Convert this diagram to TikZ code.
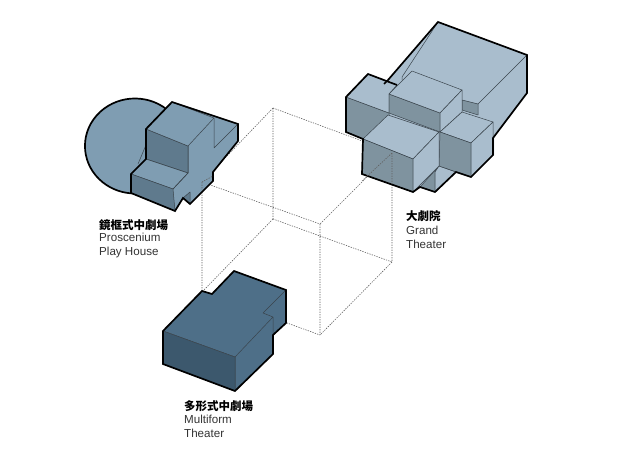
\documentclass[tikz,border=0pt]{standalone}
\usepackage{fontspec}
\setmainfont{Liberation Sans}
\newfontfamily\cjk{Noto Sans CJK TC}
\definecolor{phtop}{HTML}{7F9DB2}
\definecolor{phdark}{HTML}{5F7A8D}
\definecolor{gtop}{HTML}{A9BDCD}
\definecolor{gdark}{HTML}{7F939F}
\definecolor{mtop}{HTML}{4E6F88}
\definecolor{mdark}{HTML}{3C586D}
\definecolor{inkline}{HTML}{3A444C}
\tikzset{
  cubeline/.style={draw=black!62,line width=0.6pt,dash pattern=on 1.3pt off 1.2pt},
  facet/.style={draw=inkline,line width=0.5pt,line join=round},
  rim/.style={draw=black,line width=1.7pt,line join=miter},
  cjklabel/.style={anchor=base west,inner sep=0pt,font={\cjk\bfseries\fontsize{11.5}{13}\selectfont},text=black},
  enlabel/.style={anchor=base west,inner sep=0pt,font={\fontsize{11.6}{14}\selectfont},text=black!80}
}
\begin{document}
\begin{tikzpicture}[x=1pt,y=-1pt]
\useasboundingbox (0,0) rectangle (618,463);
% cube
\coordinate (tb) at (273,108); \coordinate (tl) at (202,182);
\coordinate (tr) at (392,152); \coordinate (tf) at (320,224);
\coordinate (bb) at (273,219); \coordinate (bl) at (202,292);
\coordinate (br) at (392,262); \coordinate (bf) at (320,335);
\draw[cubeline] (tb)--(tl) (tb)--(tr) (tl)--(tf) (tr)--(tf)
  (bb)--(bl) (bb)--(br) (bl)--(bf) (br)--(bf)
  (tb)--(bb) (tl)--(bl) (tr)--(br) (tf)--(bf);
% Play house
\fill[phtop] (135,146) ellipse[x radius=50,y radius=47.5];
\draw[rim] (167.1,109.6) arc[start angle=-50,end angle=-270,x radius=50,y radius=47.5];
\path[fill=phtop] (172,102)--(195,109)--(238,124)--(238,141)--(213,172)--(213,181)--(190,204)--(183,198)--(175,211)--(131,193)--(131,174)--(146,159)--(146,129)--cycle;
\path[facet,fill=phdark] (146,129)--(188,146)--(188,173)--(146,159)--cycle;
\path[facet,fill=phtop] (131,174)--(146,159)--(188,173)--(173,189)--cycle;
\path[facet,fill=phdark] (131,174)--(173,189)--(175,211)--(131,193)--cycle;
\path[facet,fill=phtop] (146,129)--(172,102)--(214,118)--(188,146)--cycle;
\path[facet,fill=phdark] (183,198)--(190,192)--(190,204)--cycle;
\draw[facet] (214,118)--(214,148)--(238,124) (146,145)--(138,164) (188,173)--(188,146) (173,189)--(188,173);
\draw[rim] (172,102)--(238,124)--(238,141)--(213,172)--(213,181)--(190,204)--(183,198)--(175,211)--(131,193)--(131,174)--(146,159)--(146,129)--(172,102)--cycle;
\draw[cubeline] (202,182)--(213,176) (202,182)--(202,190);
% Grand theater
\path[fill=gtop] (438,22)--(527,55)--(527,93)--(494,137)--(494,155)--(456,172)--(435,192)--(420,187)--(413,192)--(362,174)--(363,139)--(346,132)--(346,97)--(368,74)--(397,85)--(388,80)--cycle;
\path[facet,fill=gdark] (462,100)--(478,104)--(478,115)--(462,110)--cycle;
\draw[facet] (527,55)--(478,104) (438,22)--(402,77)--(402,80);
\path[facet,fill=gdark] (346,97)--(389,113)--(389,122)--(363,139)--(346,132)--cycle;
\path[facet,fill=gtop] (346,97)--(368,74)--(397,85)--(389,94)--(389,113)--cycle;
\path[facet,fill=gdark] (389,94)--(440,113)--(440,132)--(389,113)--cycle;
\path[facet,fill=gtop] (389,94)--(412,71)--(462,90)--(440,113)--cycle;
\path[facet,fill=gtop] (462,90)--(462,112)--(440,132)--(440,113)--cycle;
\path[facet,fill=gdark] (420,187)--(439,166)--(435,172)--(435,192)--cycle;
\path[facet,fill=gtop] (435,172)--(439,166)--(456,172)--(435,192)--cycle;
\path[facet,fill=gtop] (440,132)--(462,112)--(493,122)--(471,143)--cycle;
\path[facet,fill=gdark] (440,132)--(471,143)--(471,177)--(439,166)--cycle;
\path[facet,fill=gtop] (471,143)--(493,122)--(493,155)--(471,177)--cycle;
\path[facet,fill=gtop] (363,139)--(388,115)--(439,132)--(413,159)--cycle;
\path[facet,fill=gdark] (363,139)--(413,159)--(413,192)--(362,174)--cycle;
\path[facet,fill=gtop] (413,159)--(439,132)--(439,166)--(413,192)--cycle;
\draw[rim] (388,80)--(438,22)--(527,55)--(527,93)--(493,138)--(493,155)--(471,177)--(456,172)--(435,192)--(420,187)--(413,192)--(362,174)--(363,139)--(346,132)--(346,97)--(368,74)--(397,85);
\draw[rim] (388,80)--(384,84);
\draw[cubeline] (392,153)--(392,184) (392,153)--(362,181);
% Multiform theater
\path[facet,fill=mtop] (163,331)--(202,291)--(212,294)--(234,271)--(286,290)--(286,323)--(273,335)--(273,354)--(235,391)--(235,357)--cycle;
\path[facet,fill=mdark] (163,331)--(235,357)--(235,391)--(163,364)--cycle;
\draw[facet] (235,357)--(273,317)--(263,313)--(286,290) (273,317)--(273,335);
\draw[rim] (163,331)--(202,291)--(212,294)--(234,271)--(286,290)--(286,323)--(273,335)--(273,354)--(235,391)--(163,364)--cycle;
% Labels
\node[cjklabel] (l1a) at (99,229) {鏡框式中劇場};
\node[enlabel] (l1b) at (99,241) {Proscenium};
\node[enlabel] (l1c) at (99,255) {Play House};
\node[cjklabel] (l2a) at (406,220) {大劇院};
\node[enlabel] (l2b) at (406,234) {Grand};
\node[enlabel] (l2c) at (406,248) {Theater};
\node[cjklabel] (l3a) at (184,410) {多形式中劇場};
\node[enlabel] (l3b) at (184,423) {Multiform};
\node[enlabel] (l3c) at (184,437) {Theater};
\end{tikzpicture}
\end{document}
